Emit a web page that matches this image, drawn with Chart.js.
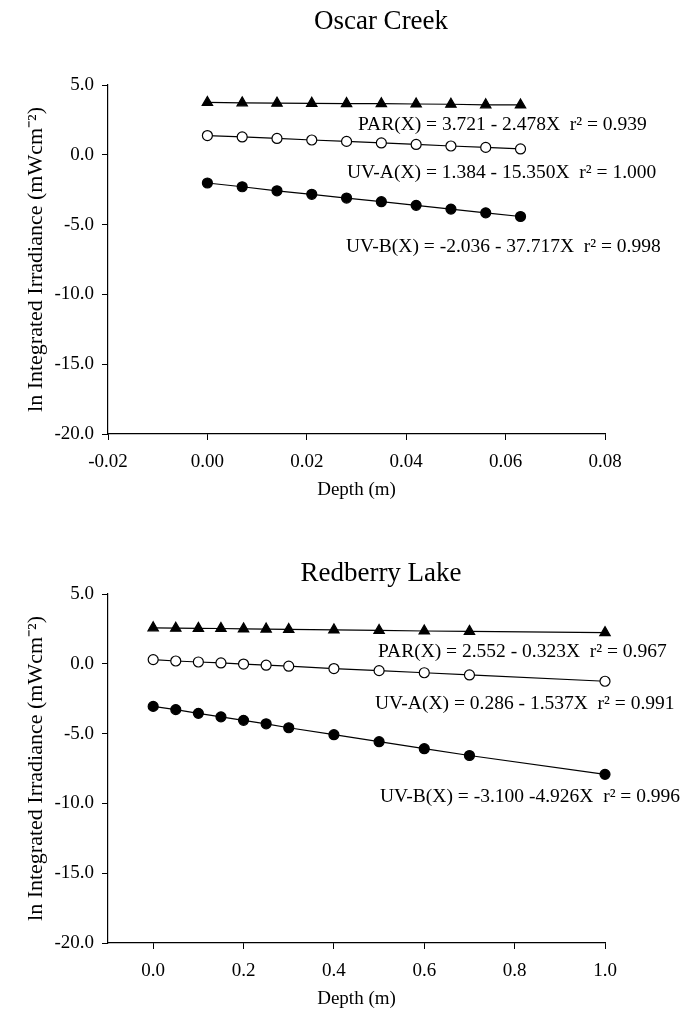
<!DOCTYPE html>
<html>
<head>
<meta charset="utf-8">
<script src="https://cdn.jsdelivr.net/npm/chart.js@4.4.1/dist/chart.umd.min.js"></script>
<style>
  html, body { margin: 0; padding: 0; background: #fff; overflow: hidden; }
  #wrap { position: relative; width: 681px; height: 1015px; }
  canvas { position: absolute; left: 0; }
</style>
</head>
<body>
<div id="wrap">
  <canvas id="oscar" width="681" height="507" style="top:0"></canvas>
  <canvas id="redberry" width="681" height="507" style="top:509px"></canvas>
</div>
<script>
// Oscar Creek
const oscarDepth = [0, 0.007, 0.014, 0.021, 0.028, 0.035, 0.042, 0.049, 0.056, 0.063];
const oscarPAR = [3.75, 3.72, 3.70, 3.69, 3.67, 3.66, 3.64, 3.62, 3.58, 3.57];
const oscarUVA = [1.38, 1.28, 1.17, 1.06, 0.96, 0.85, 0.74, 0.63, 0.53, 0.42];
const oscarUVB = [-2.02, -2.29, -2.58, -2.83, -3.10, -3.36, -3.62, -3.89, -4.16, -4.42];
const oscarXTicks = [-0.02, 0, 0.02, 0.04, 0.06, 0.08];
const oscarNotes = [
  "PAR(X) = 3.721 - 2.478X  r\u00b2 = 0.939",
  "UV-A(X) = 1.384 - 15.350X  r\u00b2 = 1.000",
  "UV-B(X) = -2.036 - 37.717X  r\u00b2 = 0.998"
];

// Redberry Lake
const redDepth = [0, 0.05, 0.1, 0.15, 0.2, 0.25, 0.3, 0.4, 0.5, 0.6, 0.7, 1.0];
const redPAR = [2.58, 2.55, 2.54, 2.53, 2.50, 2.49, 2.46, 2.43, 2.39, 2.35, 2.32, 2.23];
const redUVA = [0.30, 0.20, 0.13, 0.06, -0.02, -0.10, -0.17, -0.34, -0.49, -0.64, -0.80, -1.25];
const redUVB = [-3.05, -3.28, -3.55, -3.80, -4.05, -4.30, -4.58, -5.08, -5.58, -6.08, -6.57, -7.92];
const redXTicks = [0, 0.2, 0.4, 0.6, 0.8, 1.0];
const redNotes = [
  "PAR(X) = 2.552 - 0.323X  r\u00b2 = 0.967",
  "UV-A(X) = 0.286 - 1.537X  r\u00b2 = 0.991",
  "UV-B(X) = -3.100 -4.926X  r\u00b2 = 0.996"
];

const yTicks = [5, 0, -5, -10, -15, -20];
const serif = "'Liberation Serif', 'Times New Roman', serif";

// draws the panel title and the fit equations at fixed spots
const notesPlugin = {
  id: "notes",
  afterDraw(chart, args, opts) {
    const ctx = chart.ctx;
    ctx.save();
    ctx.fillStyle = "#000";
    ctx.textBaseline = "middle";
    ctx.textAlign = "center";
    ctx.font = "27px " + serif;
    ctx.fillText(opts.title, opts.titleAt[0], opts.titleAt[1]);
    ctx.textAlign = "left";
    ctx.font = "19.5px " + serif;
    opts.texts.forEach((t, i) => ctx.fillText(t, opts.at[i][0], opts.at[i][1]));
    ctx.restore();
  }
};

function toPoints(xs, ys) {
  return xs.map((x, i) => ({ x: x, y: ys[i] }));
}

function makePanel(id, depth, par, uva, uvb, xr, notes) {
  const line = { borderColor: "#000", borderWidth: 1.2, showLine: true, clip: false, pointBorderColor: "#000", pointBorderWidth: 1.2 };
  new Chart(document.getElementById(id), {
    type: "scatter",
    data: {
      datasets: [
        Object.assign({ label: "PAR", data: toPoints(depth, par), pointStyle: "triangle", pointRadius: 6, pointBackgroundColor: "#000" }, line),
        Object.assign({ label: "UV-A", data: toPoints(depth, uva), pointStyle: "circle", pointRadius: 5, pointBackgroundColor: "#fff" }, line),
        Object.assign({ label: "UV-B", data: toPoints(depth, uvb), pointStyle: "circle", pointRadius: 5, pointBackgroundColor: "#000" }, line)
      ]
    },
    plugins: [notesPlugin],
    options: {
      responsive: false,
      animation: false,
      devicePixelRatio: 1,
      layout: { padding: { top: 85, right: 76, bottom: 0, left: 0 } },
      plugins: {
        legend: { display: false },
        tooltip: { enabled: false },
        notes: notes
      },
      scales: {
        x: {
          type: "linear",
          min: xr.min, max: xr.max,
          border: { display: true, color: "#000", width: 1.2 },
          grid: { drawOnChartArea: false, drawTicks: true, tickLength: 6, color: "#000" },
          afterBuildTicks: (s) => { s.ticks = xr.ticks.map(v => ({ value: v })); },
          afterFit: (s) => { s.height = 73; },
          ticks: {
            color: "#000", padding: 11, maxRotation: 0, autoSkip: false,
            font: { family: serif, size: 19 },
            callback: (v) => Number(v).toFixed(xr.dec)
          },
          title: { display: true, text: "Depth (m)", color: "#000", font: { family: serif, size: 19 }, padding: { top: 0, bottom: 6 } }
        },
        y: {
          min: -20, max: 5,
          border: { display: true, color: "#000", width: 1.2 },
          grid: { drawOnChartArea: false, drawTicks: true, tickLength: 6, color: "#000" },
          afterBuildTicks: (s) => { s.ticks = yTicks.map(v => ({ value: v })); },
          afterFit: (s) => { s.width = 108; },
          ticks: {
            color: "#000", padding: 8,
            font: { family: serif, size: 19 },
            callback: (v) => Number(v).toFixed(1)
          },
          title: { display: true, text: "ln Integrated Irradiance (mWcm\u207b\u00b2)", color: "#000", font: { family: serif, size: 22 }, padding: { top: 23, bottom: 0 } }
        }
      }
    }
  });
}

makePanel("oscar", oscarDepth, oscarPAR, oscarUVA, oscarUVB,
  { min: -0.02, max: 0.08, ticks: oscarXTicks, dec: 2 },
  { title: "Oscar Creek", titleAt: [381, 22], texts: oscarNotes, at: [[358, 125], [347, 173], [346, 247]] });

makePanel("redberry", redDepth, redPAR, redUVA, redUVB,
  { min: -0.1, max: 1.0, ticks: redXTicks, dec: 1 },
  { title: "Redberry Lake", titleAt: [381, 65], texts: redNotes, at: [[378, 143], [375, 195], [380, 288]] });
</script>
</body>
</html>
